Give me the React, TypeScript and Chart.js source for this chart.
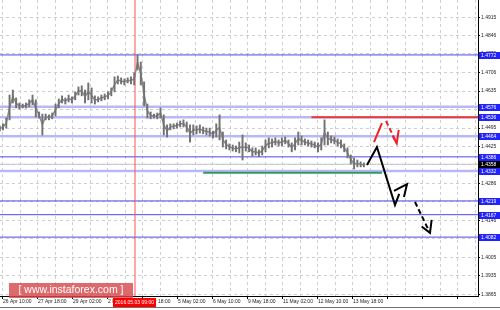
import React, { useEffect, useRef } from 'react';
import { Chart, registerables } from 'chart.js';

Chart.register(...registerables);

// ---- price bars (hourly chart, one sample every 3 hours) ----
const firstHour = -3;
const hourStep = 3;
const barHigh = [
  1.4503, 1.4511, 1.4533, 1.4620, 1.4639, 1.4609, 1.4590, 1.4586, 1.4590, 1.4602,
  1.4620, 1.4602, 1.4556, 1.4548, 1.4548, 1.4545, 1.4552, 1.4586, 1.4605, 1.4617,
  1.4609, 1.4620, 1.4613, 1.4632, 1.4651, 1.4655, 1.4639, 1.4666, 1.4647, 1.4617,
  1.4613, 1.4620, 1.4624, 1.4632, 1.4647, 1.4689, 1.4692, 1.4685, 1.4681, 1.4685,
  1.4689, 1.4704, 1.4772, 1.4745, 1.4670, 1.4586, 1.4556, 1.4548, 1.4552, 1.4571,
  1.4545, 1.4507, 1.4511, 1.4511, 1.4514, 1.4522, 1.4526, 1.4518, 1.4507, 1.4507,
  1.4503, 1.4507, 1.4499, 1.4495, 1.4495, 1.4484, 1.4511, 1.4545, 1.4480, 1.4450,
  1.4435, 1.4431, 1.4427, 1.4442, 1.4469, 1.4439, 1.4431, 1.4420, 1.4420, 1.4412,
  1.4427, 1.4450, 1.4458, 1.4454, 1.4458, 1.4450, 1.4458, 1.4461, 1.4450, 1.4439,
  1.4458, 1.4480, 1.4465, 1.4454, 1.4450, 1.4446, 1.4442, 1.4439, 1.4458, 1.4526,
  1.4480, 1.4465, 1.4461, 1.4454, 1.4450, 1.4435, 1.4420, 1.4393, 1.4382, 1.4374,
  1.4367, 1.4363,
];
const barLow = [
  1.4484, 1.4488, 1.4495, 1.4526, 1.4590, 1.4571, 1.4567, 1.4571, 1.4571, 1.4575,
  1.4583, 1.4537, 1.4533, 1.4469, 1.4526, 1.4526, 1.4530, 1.4541, 1.4571, 1.4590,
  1.4586, 1.4594, 1.4590, 1.4602, 1.4620, 1.4617, 1.4590, 1.4602, 1.4590, 1.4586,
  1.4594, 1.4598, 1.4602, 1.4605, 1.4617, 1.4632, 1.4662, 1.4662, 1.4658, 1.4666,
  1.4662, 1.4658, 1.4715, 1.4658, 1.4579, 1.4533, 1.4530, 1.4533, 1.4530, 1.4533,
  1.4469, 1.4461, 1.4488, 1.4492, 1.4495, 1.4499, 1.4499, 1.4480, 1.4442, 1.4469,
  1.4473, 1.4476, 1.4473, 1.4469, 1.4465, 1.4458, 1.4461, 1.4450, 1.4423, 1.4416,
  1.4412, 1.4408, 1.4405, 1.4401, 1.4374, 1.4408, 1.4405, 1.4389, 1.4393, 1.4386,
  1.4393, 1.4405, 1.4420, 1.4423, 1.4431, 1.4427, 1.4427, 1.4435, 1.4423, 1.4405,
  1.4412, 1.4431, 1.4431, 1.4431, 1.4427, 1.4423, 1.4420, 1.4405, 1.4412, 1.4431,
  1.4431, 1.4439, 1.4435, 1.4427, 1.4420, 1.4405, 1.4382, 1.4359, 1.4340, 1.4348,
  1.4348, 1.4348,
];

// ---- axes ----
const xTickLabels = [
  '26 Apr 10:00', '27 Apr 18:00', '29 Apr 02:00', '2 May 10:00', '3 May 18:00',
  '5 May 02:00', '6 May 10:00', '9 May 18:00', '11 May 02:00', '12 May 10:00', '13 May 18:00',
];
const xLabelEveryHours = 32;
const xGridEveryHours = 16;
const xRange = [-2.74, 434.3];
const yRange = [1.3859, 1.498];
const yTickValues = [
  1.4915, 1.4846, 1.4776, 1.4706, 1.4635, 1.4566, 1.4495, 1.4425, 1.4356,
  1.4286, 1.4216, 1.4146, 1.4075, 1.4005, 1.3935, 1.3865,
];

// ---- horizontal levels ----
const thinLevels = [1.4772, 1.4386, 1.4219, 1.4167, 1.4082];
const wideLevels = [1.4576, 1.4536, 1.4464, 1.4332];
const currentPrice = 1.4358;
const resistancePrice = 1.4536;
const resistanceFromHour = 282;
const supportPrice = 1.4326;
const supportHours = [183, 346.5];
const eventHour = 120.7;
const eventLabel = '2016.05.03 09:00';
const watermarkText = '[ www.instaforex.com ]';

// ---- forecast arrows: [hour, price] ----
const blackPath = [[332.8, 1.4355], [341.9, 1.4423], [358.4, 1.4204], [362.3, 1.4246]];
const blackSmallArrow = [[357.5, 1.4257], [369.4, 1.4283], [366.6, 1.4234]];
const blackDashed = [[376.7, 1.4215], [390.4, 1.4098]];
const blackDashedHead = [[382.8, 1.4122], [390.4, 1.4098], [391.9, 1.4147]];
const redSolid = [[339.2, 1.4442], [346.5, 1.4514]];
const redDashed = [[350.2, 1.4522], [360.0, 1.4437]];
const redDashedHead = [[356.3, 1.4465], [360.0, 1.4437], [361.8, 1.4488]];

const FONT = '"Liberation Sans", Arial, sans-serif';

const pts = (a: number[][]) => a.map(([x, y]) => ({ x, y }));

export default function App() {
  const ref = useRef<HTMLCanvasElement | null>(null);

  useEffect(() => {
    document.body.style.margin = '0';
    const canvas = ref.current;
    if (!canvas) return;

    const bars = barHigh.map((hi, i) => ({ x: firstHour + i * hourStep, y: [barLow[i], hi] }));
    const mids = barHigh.map((hi, i) => ({ x: firstHour + i * hourStep, y: (hi + barLow[i]) / 2 }));
    const hline = (p: number, from = xRange[0], to = xRange[1]) => [
      { x: from, y: p },
      { x: to, y: p },
    ];
    const lineDs = (data: any[], color: string, width: number, order: number, dash: number[] = []) => ({
      type: 'line' as const,
      data,
      borderColor: color,
      borderWidth: width,
      borderDash: dash,
      pointRadius: 0,
      fill: false,
      tension: 0,
      order,
    });

    const datasets: any[] = [
      ...wideLevels.map((p) => lineDs(hline(p), '#b8b8f6', 2.5, 10)),
      ...thinLevels.map((p) => lineDs(hline(p), '#4848f0', 1, 10)),
      lineDs(hline(currentPrice), '#c4c4c4', 1, 9),
      lineDs(hline(resistancePrice, resistanceFromHour), '#e8383a', 2, 8),
      lineDs(hline(supportPrice, supportHours[0], supportHours[1]), '#2f9a62', 2, 8),
      lineDs([{ x: eventHour, y: yRange[0] }, { x: eventHour, y: yRange[1] }], '#ff5050', 1, 8),
      lineDs(mids, '#8a8a8a', 1.5, 6),
      {
        type: 'bar' as const,
        data: bars,
        backgroundColor: '#727272',
        barThickness: 1.3,
        grouped: false,
        order: 5,
      },
      lineDs(pts(blackPath), '#000', 2, 1),
      lineDs(pts(blackSmallArrow), '#000', 2, 1),
      lineDs(pts(blackDashed), '#000', 2, 1, [5, 3]),
      lineDs(pts(blackDashedHead), '#000', 2, 1),
      lineDs(pts(redSolid), '#ee2222', 2, 1),
      lineDs(pts(redDashed), '#ee2222', 2, 1, [5, 3]),
      lineDs(pts(redDashedHead), '#ee2222', 2, 1),
    ];

    const overlay = {
      id: 'overlay',
      afterDraw(chart: any) {
        const { ctx, chartArea, scales } = chart;
        const x = scales.x;
        const y = scales.y;
        ctx.save();
        ctx.font = `5px ${FONT}`;
        ctx.textBaseline = 'middle';
        const boxLeft = chartArea.right + 1;
        const drawBox = (price: number, fill: string) => {
          const py = Math.round(y.getPixelForValue(price));
          ctx.fillStyle = fill;
          ctx.fillRect(boxLeft, py - 3, chart.width - boxLeft, 7);
          ctx.fillStyle = '#ffffff';
          ctx.textAlign = 'left';
          ctx.fillText(price.toFixed(4), boxLeft + 2, py + 0.5);
        };
        [...thinLevels, ...wideLevels].forEach((p) => drawBox(p, '#2222ff'));
        drawBox(currentPrice, '#000000');

        // event date box
        const ex = x.getPixelForValue(eventHour);
        ctx.fillStyle = '#ff0000';
        ctx.fillRect(ex - 22, chartArea.bottom + 2, 43, 9);
        ctx.fillStyle = '#ffffff';
        ctx.textAlign = 'center';
        ctx.fillText(eventLabel, ex - 0.5, chartArea.bottom + 6.5);

        // watermark
        ctx.fillStyle = 'rgba(214, 74, 78, 0.82)';
        ctx.fillRect(chartArea.left + 9, chartArea.bottom - 13, 124, 15);
        ctx.fillStyle = '#ffffff';
        ctx.font = `10.5px ${FONT}`;
        ctx.textAlign = 'center';
        ctx.fillText(watermarkText, chartArea.left + 71, chartArea.bottom - 5.5);

        // bottom frame
        ctx.strokeStyle = '#707070';
        ctx.lineWidth = 1;
        ctx.beginPath();
        ctx.moveTo(0, chart.height - 2.5);
        ctx.lineTo(chart.width, chart.height - 2.5);
        ctx.stroke();
        ctx.restore();
      },
    };

    const chart = new Chart(canvas, {
      type: 'bar',
      data: { datasets },
      plugins: [overlay],
      options: {
        animation: false,
        responsive: false,
        devicePixelRatio: 1,
        layout: { padding: 0 },
        plugins: { legend: { display: false }, tooltip: { enabled: false } },
        scales: {
          x: {
            type: 'linear',
            min: xRange[0],
            max: xRange[1],
            offset: false,
            grid: {
              offset: false,
              color: '#cfcfcf',
              lineWidth: 1,
              drawTicks: true,
              tickLength: 3,
              tickColor: (c: any) =>
                c.tick && c.tick.value % xLabelEveryHours === 0 ? '#000' : 'rgba(0,0,0,0)',
            },
            border: { display: true, color: '#000', width: 1, dash: [3, 3] },
            afterBuildTicks: (s: any) => {
              const t = [];
              for (let h = 0; h <= xRange[1]; h += xGridEveryHours) t.push({ value: h });
              s.ticks = t;
            },
            afterFit: (s: any) => {
              s.height = 14;
              s.paddingLeft = 0;
              s.paddingRight = 0;
            },
            ticks: {
              autoSkip: false,
              maxRotation: 0,
              minRotation: 0,
              align: 'start',
              padding: 0,
              color: '#222',
              font: { family: FONT, size: 5 },
              callback: (v: any) => {
                const k = Number(v) / xLabelEveryHours;
                return Number.isInteger(k) && k < xTickLabels.length ? xTickLabels[k] : '';
              },
            },
          },
          y: {
            type: 'linear',
            position: 'right',
            min: yRange[0],
            max: yRange[1],
            grid: { color: '#cfcfcf', lineWidth: 1, tickLength: 2, tickColor: '#000' },
            border: { display: true, color: '#000', width: 1, dash: [3, 3] },
            afterBuildTicks: (s: any) => {
              s.ticks = yTickValues.map((v) => ({ value: v }));
            },
            afterFit: (s: any) => {
              s.width = 22;
              s.paddingTop = 0;
              s.paddingBottom = 0;
            },
            ticks: {
              padding: 1,
              color: '#222',
              font: { family: FONT, size: 5 },
              callback: (v: any) => Number(v).toFixed(4),
            },
          },
        },
      },
    } as any);

    return () => chart.destroy();
  }, []);

  return (
    <div style={{ position: 'fixed', left: 0, top: 0, width: 500, height: 310, background: '#fff' }}>
      <canvas ref={ref} width={500} height={310} style={{ display: 'block' }} />
    </div>
  );
}
